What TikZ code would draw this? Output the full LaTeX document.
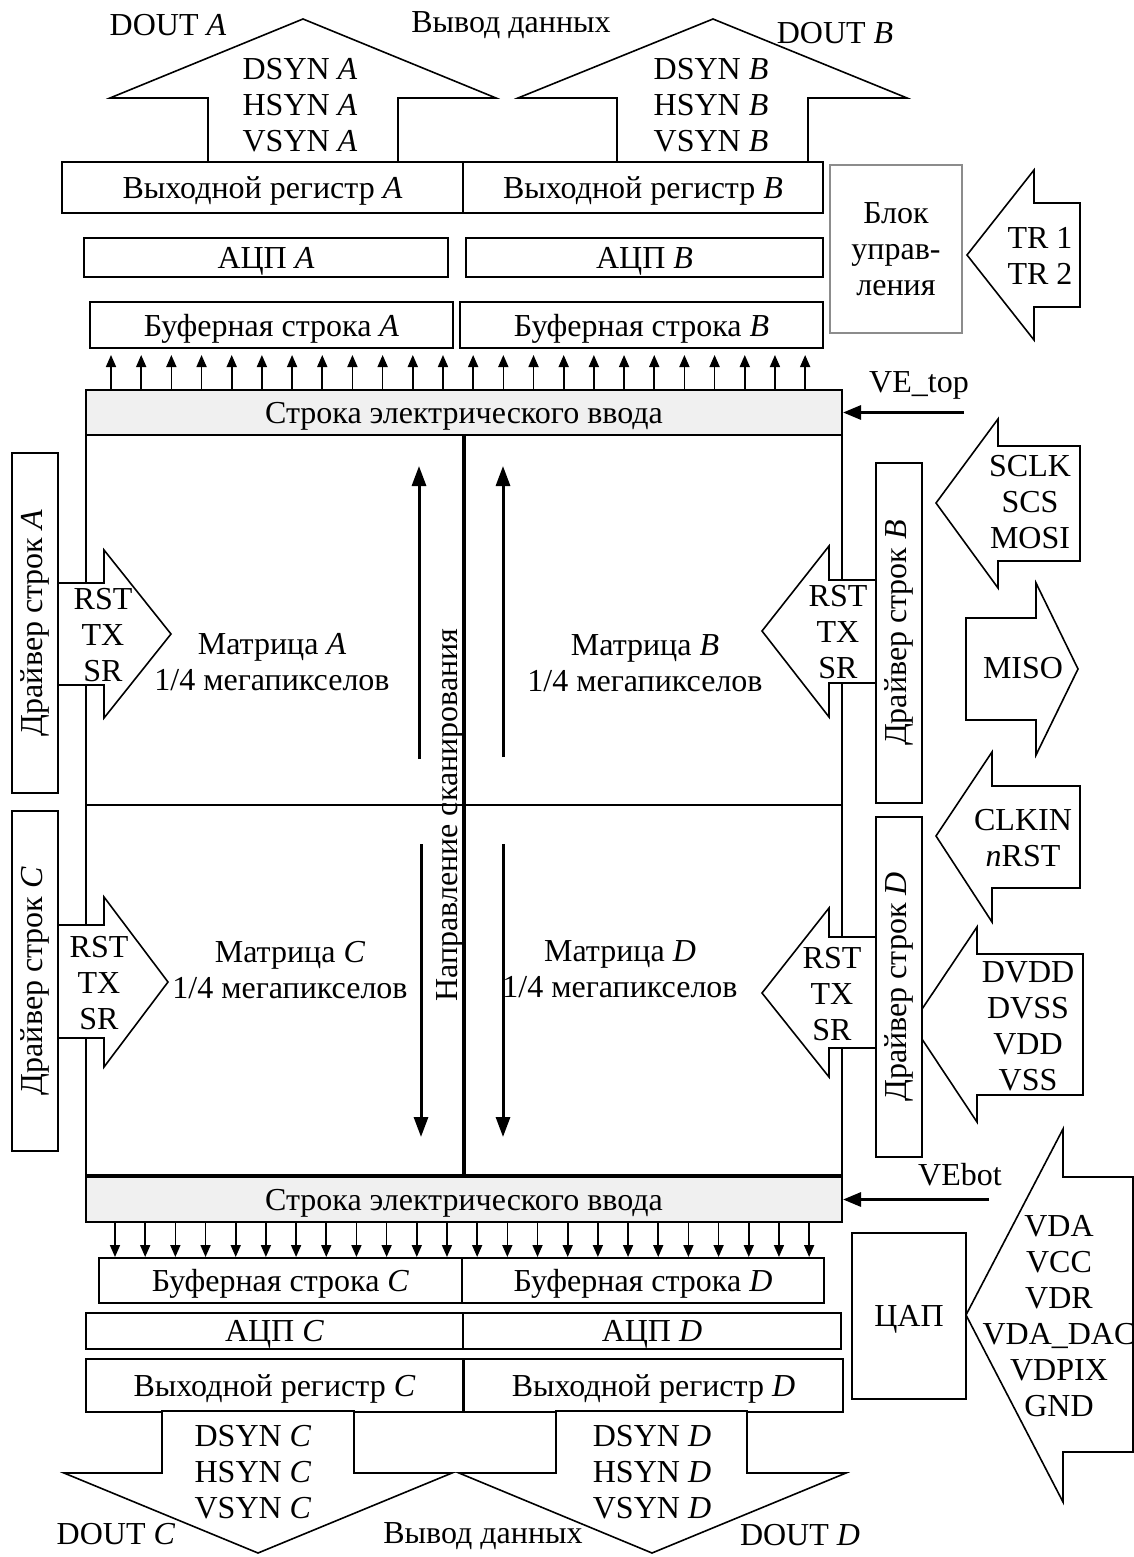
\documentclass[tikz,border=0pt]{standalone}
\usepackage{fontspec}
\setmainfont{Liberation Serif}
\usepackage{xcolor}
\definecolor{CPanel}{HTML}{F0F0F0}
\definecolor{CFrame}{HTML}{8C8C8C}
\usetikzlibrary{arrows.meta}
\tikzstyle{unitNode}=[rectangle, draw=black, fill=white, line width=1pt, inner sep=0pt,
  align=center, text depth=0pt, font=\fontsize{16}{18}\selectfont]
\tikzstyle{regNode}=[unitNode, line width=1.3pt]
\tikzstyle{lineNode}=[unitNode, fill=CPanel, minimum width=378pt, minimum height=22.5pt]
\tikzstyle{ctrlNode}=[unitNode, draw=CFrame]
\tikzstyle{driverNode}=[rectangle, draw=black, fill=white, line width=1pt, inner sep=0pt,
  rotate=90, minimum width=170pt, minimum height=23pt, font=\fontsize{16}{18}\selectfont]
\tikzstyle{cellNode}=[rectangle, draw=black, line width=1pt, minimum height=185pt]
\tikzstyle{textNode}=[align=center, inner sep=0pt, font=\fontsize{16}{18}\selectfont]
\tikzstyle{busArrow}=[draw=black, fill=white, line width=0.8pt, line join=miter]
\tikzstyle{arr}=[-{Triangle[length=6pt,width=5pt]}, line width=0.8pt]
\tikzstyle{veArr}=[-{Triangle[length=9pt,width=7pt]}, line width=1.5pt]
\tikzstyle{scanArr}=[-{Triangle[length=10pt,width=7pt]}, line width=1.5pt]

\begin{document}
\begin{tikzpicture}[x=0.5pt, y=-0.5pt]
\useasboundingbox (0,0) rectangle (1134,1557);

\draw[busArrow] (208,162) -- (208,98) -- (110,98) -- (303,19) -- (496,98) -- (398,98) -- (398,162) -- cycle;
\draw[busArrow] (617,162) -- (617,98) -- (518,98) -- (713,19) -- (907,98) -- (808,98) -- (808,162) -- cycle;
\node[textNode] (doutA) at (168,25) {DOUT \textit{A}};
\node[textNode] (outTop) at (511,25) {Вывод данных};
\node[textNode] (doutB) at (835,33) {DOUT \textit{B}};
\node[textNode] (syncA) at (300,105) {DSYN \textit{A}\\HSYN \textit{A}\\VSYN \textit{A}};
\node[textNode] (syncB) at (711,105) {DSYN \textit{B}\\HSYN \textit{B}\\VSYN \textit{B}};

\node[regNode, minimum width=200.5pt, minimum height=25.5pt] (outA) at (262.5,187.5) {Выходной регистр \textit{A}};
\node[regNode, minimum width=180pt, minimum height=25.5pt] (outB) at (643,187.5) {Выходной регистр \textit{B}};
\node[unitNode, minimum width=182pt, minimum height=19.5pt] (adcA) at (266,257.5) {АЦП \textit{A}};
\node[unitNode, minimum width=178.5pt, minimum height=19.5pt] (adcB) at (644.5,257.5) {АЦП \textit{B}};
\node[unitNode, minimum width=181.5pt, minimum height=23pt] (bufA) at (271.5,325) {Буферная строка \textit{A}};
\node[unitNode, minimum width=181.5pt, minimum height=23pt] (bufB) at (641.5,325) {Буферная строка \textit{B}};
\node[ctrlNode, minimum width=66pt, minimum height=84pt] (ctrl) at (896,249) {Блок\\управ-\\ления};

\draw[busArrow] (1080,203) -- (1034,203) -- (1034,170) -- (967,255) -- (1034,340) -- (1034,307) -- (1080,307) -- cycle;
\node[textNode] (trig) at (1040,256) {TR 1\\TR 2};

\node[lineNode] (vtop) at (464,412.5) {Строка электрического ввода};
\foreach \i in {0,...,23}
  \draw[arr, shorten >=3pt] ([xshift={13pt+\i*15.09pt}]vtop.north west) -- ([xshift={13pt+\i*15.09pt}]vtop.north west |- bufA.south);
\coordinate (vetopIn) at (964,412.5);
\draw[veArr] (vetopIn) -- (vtop.east);
\node[textNode] (vetopLbl) at (919,385) {VE\_top};

\node[cellNode, minimum width=188.5pt] (matA) at (274.5,620) {};
\node[cellNode, minimum width=189.5pt] (matB) at (652.5,620) {};
\node[cellNode, minimum width=188.5pt] (matC) at (274.5,990) {};
\node[cellNode, minimum width=189.5pt] (matD) at (652.5,990) {};
\draw[line width=1.6pt] (matA.north east) -- (matC.south east);
\node[textNode] (txtA) at (272,662) {Матрица \textit{A}\\1/4 мегапикселов};
\node[textNode] (txtB) at (645,663) {Матрица \textit{B}\\1/4 мегапикселов};
\node[textNode] (txtC) at (290,970) {Матрица \textit{C}\\1/4 мегапикселов};
\node[textNode] (txtD) at (620,969) {Матрица \textit{D}\\1/4 мегапикселов};
\node[textNode, rotate=90] (scanLbl) at (450,815) {Направление сканирования};
\coordinate (scanA0) at (419,759);
\coordinate (scanA1) at (419,466);
\coordinate (scanB0) at (503,757);
\coordinate (scanB1) at (503,466);
\coordinate (scanC0) at (421,844);
\coordinate (scanC1) at (421,1137);
\coordinate (scanD0) at (503,844);
\coordinate (scanD1) at (503,1137);
\draw[scanArr] (scanA0) -- (scanA1);
\draw[scanArr] (scanB0) -- (scanB1);
\draw[scanArr] (scanC0) -- (scanC1);
\draw[scanArr] (scanD0) -- (scanD1);

\draw[busArrow] (58,583) -- (104,583) -- (104,550) -- (171,634) -- (104,718) -- (104,685) -- (58,685) -- cycle;
\draw[busArrow] (58,925) -- (104,925) -- (104,897) -- (168,982) -- (104,1067) -- (104,1038) -- (58,1038) -- cycle;
\draw[busArrow] (876,580) -- (829,580) -- (829,546) -- (762,631) -- (829,717) -- (829,683) -- (876,683) -- cycle;
\draw[busArrow] (876,937) -- (829,937) -- (829,908) -- (762,993) -- (829,1077) -- (829,1048) -- (876,1048) -- cycle;
\node[textNode] (ctlA) at (103,635) {RST\\TX\\SR};
\node[textNode] (ctlC) at (99,983) {RST\\TX\\SR};
\node[textNode] (ctlB) at (838,632) {RST\\TX\\SR};
\node[textNode] (ctlD) at (832,994) {RST\\TX\\SR};

\draw[busArrow] (1083,954) -- (977,954) -- (977,927) -- (912,1024) -- (977,1122) -- (977,1095) -- (1083,1095) -- cycle;
\node[driverNode] (drvA) at (35,623) {Драйвер строк \textit{A}};
\node[driverNode] (drvC) at (35,981) {Драйвер строк \textit{C}};
\node[driverNode] (drvB) at (898.5,633) {Драйвер строк \textit{B}};
\node[driverNode] (drvD) at (898.5,987) {Драйвер строк \textit{D}};

\draw[busArrow] (1080,446) -- (998,446) -- (998,419) -- (936,503) -- (998,588) -- (998,561) -- (1080,561) -- cycle;
\draw[busArrow] (966,618) -- (1036,618) -- (1036,583) -- (1078,669) -- (1036,755) -- (1036,720) -- (966,720) -- cycle;
\draw[busArrow] (1080,786) -- (992,786) -- (992,752) -- (936,836) -- (992,922) -- (992,888) -- (1080,888) -- cycle;
\node[textNode] (spiIn) at (1030,502) {SCLK\\SCS\\MOSI};
\node[textNode] (spiOut) at (1023,668) {MISO};
\node[textNode] (clkIn) at (1023,838) {CLKIN\\\textit{n}RST};
\node[textNode] (pwrDig) at (1028,1026) {DVDD\\DVSS\\VDD\\VSS};

\node[lineNode] (vbot) at (464,1199.5) {Строка электрического ввода};
\coordinate (vebotIn) at (989,1199.5);
\draw[veArr] (vebotIn) -- (vbot.east);
\node[textNode] (vebotLbl) at (960,1175) {VEbot};

\node[unitNode, minimum width=181.5pt, minimum height=22.5pt] (bufC) at (280.5,1280.5) {Буферная строка \textit{C}};
\node[unitNode, minimum width=181pt, minimum height=22.5pt] (bufD) at (643,1280.5) {Буферная строка \textit{D}};
\node[unitNode, minimum width=188.5pt, minimum height=18pt] (adcC) at (274.5,1331) {АЦП \textit{C}};
\node[unitNode, minimum width=189pt, minimum height=18pt] (adcD) at (652,1331) {АЦП \textit{D}};
\node[regNode, minimum width=188.5pt, minimum height=26.5pt] (outC) at (274.5,1385.5) {Выходной регистр \textit{C}};
\node[regNode, minimum width=189.5pt, minimum height=26.5pt] (outD) at (653.5,1385.5) {Выходной регистр \textit{D}};
\foreach \i in {0,...,23}
  \draw[arr] ([xshift={15pt+\i*15.09pt}]vbot.south west) -- ([xshift={15pt+\i*15.09pt}]vbot.south west |- bufC.north);

\draw[busArrow] (162,1411) -- (162,1473) -- (64,1473) -- (258,1553) -- (452,1473) -- (354,1473) -- (354,1411) -- cycle;
\draw[busArrow] (556,1411) -- (556,1473) -- (459,1473) -- (652,1553) -- (846,1473) -- (747,1473) -- (747,1411) -- cycle;
\node[textNode] (syncC) at (253,1472) {DSYN \textit{C}\\HSYN \textit{C}\\VSYN \textit{C}};
\node[textNode] (syncD) at (652,1472) {DSYN \textit{D}\\HSYN \textit{D}\\VSYN \textit{D}};
\node[textNode] (doutC) at (116,1534) {DOUT \textit{C}};
\node[textNode] (outBot) at (483,1536) {Вывод данных};
\node[textNode] (doutD) at (800,1535) {DOUT \textit{D}};

\draw[busArrow] (1133,1177) -- (1063,1177) -- (1063,1129) -- (966,1315) -- (1063,1502) -- (1063,1452) -- (1133,1452) -- cycle;
\node[unitNode, minimum width=57pt, minimum height=83pt] (dac) at (909,1316) {ЦАП};
\node[textNode] (pwrAna) at (1059,1316) {VDA\\VCC\\VDR\\VDA\_DAC\\VDPIX\\GND};
\end{tikzpicture}
\end{document}
